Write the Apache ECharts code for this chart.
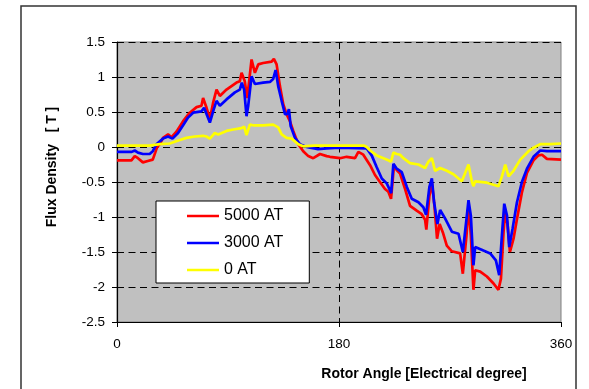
<!DOCTYPE html>
<html>
<head>
<meta charset="utf-8">
<script src="https://cdn.jsdelivr.net/npm/echarts@6/dist/echarts.min.js"></script>
<style>
  html, body { margin: 0; padding: 0; background: #ffffff; }
  #chart { width: 589px; height: 389px; }
</style>
</head>
<body>
<div id="chart"></div>
<script>
// Flux density along the air gap vs. rotor position, for three excitation levels.
const seriesNames = ['5000 AT', '3000 AT', '0 AT'];
const xTicks = { min: 0, max: 360, interval: 180 };
const yTicks = { min: -2.5, max: 1.5, interval: 0.5 };

// [rotor angle (electrical degree), flux density (T)]
const flux5000 = [
  [0,-0.19],[11.7,-0.19],[14.4,-0.13],[17,-0.16],[21,-0.22],[25,-0.20],[29,-0.18],[31,-0.08],
  [32.5,0.0],[35,0.05],[37.3,0.13],[41.4,0.18],[44.2,0.14],[48.2,0.22],[53.6,0.37],[59,0.49],
  [64.5,0.57],[68.5,0.59],[69.8,0.70],[72.6,0.56],[75.3,0.40],[77.9,0.63],[80.7,0.82],[83.4,0.73],
  [88.8,0.82],[96.9,0.92],[99.6,0.94],[101,1.06],[103.6,0.94],[105.5,0.70],[106.9,0.90],[109.1,1.25],
  [111.8,1.06],[114.5,1.18],[118.5,1.20],[125.4,1.22],[127.2,1.26],[129.4,1.18],[132.1,0.87],
  [134.8,0.61],[137.5,0.47],[140.2,0.37],[142.9,0.23],[147,0.04],[151,-0.06],[155.1,-0.13],
  [159.1,-0.16],[164.6,-0.10],[170,-0.13],[172.7,-0.14],[180.8,-0.16],[186.2,-0.14],[193,-0.16],
  [195.7,-0.07],[199.7,-0.11],[205.2,-0.26],[209.2,-0.40],[213.2,-0.50],[217.3,-0.60],[220,-0.64],
  [222.2,-0.74],[224.6,-0.26],[226.8,-0.33],[229.5,-0.38],[233.6,-0.60],[237.6,-0.84],[243,-0.91],
  [247.1,-0.96],[249.8,-1.04],[250.8,-1.18],[253.3,-0.70],[255.3,-0.51],[257.4,-0.84],[259.5,-1.31],
  [261.6,-1.10],[264.2,-1.22],[267.4,-1.41],[271.5,-1.49],[278.2,-1.52],[280.4,-1.81],[283.4,-1.26],
  [285,-0.84],[286.9,-1.26],[289,-2.04],[290.4,-1.76],[294.5,-1.78],[299.9,-1.85],[305.3,-1.95],
  [309.3,-2.04],[311.3,-1.88],[313.4,-1.22],[314.8,-0.91],[316.7,-1.12],[318.6,-1.50],[321.5,-1.31],
  [324.3,-1.03],[328.3,-0.65],[332.4,-0.37],[337.7,-0.19],[341.8,-0.12],[344.6,-0.11],[348.6,-0.17],
  [360,-0.18]
];

const flux3000 = [
  [0,-0.07],[12,-0.07],[14.4,-0.05],[17,-0.08],[21,-0.10],[26.5,-0.10],[29,-0.06],[32,0.04],
  [37.3,0.12],[41.4,0.15],[45,0.12],[49.5,0.20],[53.6,0.31],[57.6,0.42],[61.7,0.49],[68.5,0.51],
  [70.6,0.56],[72.6,0.47],[75.3,0.35],[78.5,0.54],[80.7,0.66],[83.4,0.59],[88.8,0.68],[95.6,0.78],
  [99.6,0.82],[101.2,0.92],[103.1,0.82],[105,0.44],[106.4,0.59],[109.1,1.01],[111.8,0.90],
  [118.5,0.92],[124,0.93],[126.6,0.97],[128.6,1.10],[130.7,0.87],[133.5,0.66],[136.2,0.47],
  [138,0.47],[139.4,0.54],[140.8,0.30],[144.3,0.13],[148.3,0.04],[153.8,0.0],[156.5,-0.01],
  [160,-0.02],[163,-0.03],[170,-0.02],[180,-0.01],[202.5,-0.02],[206.5,-0.12],[210.6,-0.29],
  [214.7,-0.45],[218.7,-0.52],[221.4,-0.62],[222.3,-0.66],[224.1,-0.24],[226.8,-0.31],[230.9,-0.36],
  [235,-0.57],[239,-0.74],[244.4,-0.79],[248.4,-0.86],[250.6,-0.97],[253.3,-0.57],[255.3,-0.45],
  [257.1,-0.79],[259.8,-1.10],[262,-0.90],[266,-1.02],[271.5,-1.21],[276.9,-1.24],[280.4,-1.50],
  [283.1,-1.07],[285,-0.76],[286.9,-0.98],[289,-1.69],[290.4,-1.43],[297.1,-1.48],[302.6,-1.52],
  [307.2,-1.62],[309.9,-1.83],[312.1,-1.26],[314,-0.81],[316.2,-0.98],[318,-1.43],[320.7,-1.17],
  [324.3,-0.79],[328.3,-0.50],[332.4,-0.31],[337.7,-0.14],[343.2,-0.05],[348.6,-0.06],[360,-0.06]
];

const flux0 = [
  [0,0.02],[26.5,0.02],[34.7,0.04],[42.8,0.05],[50.9,0.10],[56.3,0.13],[63.1,0.15],[69.8,0.16],
  [72.5,0.15],[75.3,0.12],[79.3,0.20],[82,0.18],[88.8,0.23],[94.2,0.25],[101,0.27],[103.1,0.29],
  [105,0.17],[107.7,0.32],[110.4,0.31],[118.5,0.31],[126.6,0.32],[130.7,0.28],[133.5,0.18],
  [137.5,0.13],[141.6,0.12],[147,0.04],[151,0.01],[160,0.02],[200,0.02],[202.5,0.0],[205.2,-0.05],
  [210.6,-0.12],[220,-0.19],[222.2,-0.21],[224.1,-0.08],[226.8,-0.10],[229.5,-0.11],[232.2,-0.16],
  [237.6,-0.23],[244.4,-0.25],[249.8,-0.30],[252.5,-0.21],[255.3,-0.16],[257.9,-0.34],[262,-0.30],
  [267.4,-0.34],[272.8,-0.39],[279.6,-0.49],[282.3,-0.37],[285,-0.25],[287.7,-0.49],[289,-0.56],
  [290.4,-0.49],[299.9,-0.51],[309.3,-0.56],[312.1,-0.42],[314.8,-0.25],[317.5,-0.42],[321.5,-0.34],
  [327,-0.18],[333.7,-0.06],[337.7,-0.01],[343.2,0.04],[351.3,0.04],[360,0.05]
];

const seriesColors = ['#ff0000', '#0000ff', '#ffff00'];
const seriesData = [flux5000, flux3000, flux0];

const FONT = '"Liberation Sans", Arial, sans-serif';
const chart = echarts.init(document.getElementById('chart'), null, { renderer: 'canvas' });

const gridDash = {
  show: true,
  lineStyle: { color: '#000000', width: 1, type: [7, 4.5] }
};

chart.setOption({
  animation: false,
  backgroundColor: '#ffffff',
  textStyle: { fontFamily: FONT },
  grid: {
    left: 117, top: 42, width: 444, height: 280,
    show: true, backgroundColor: '#c0c0c0', borderColor: '#808080', borderWidth: 1
  },
  xAxis: {
    type: 'value',
    min: xTicks.min, max: xTicks.max, interval: xTicks.interval,
    axisLine: { show: true, onZero: false, lineStyle: { color: '#000000', width: 1.2 } },
    axisTick: { show: true, length: 5, lineStyle: { color: '#000000' } },
    axisLabel: { color: '#000000', fontSize: 13.5, fontFamily: FONT, margin: 15 },
    splitLine: Object.assign({ showMinLine: false, showMaxLine: false }, gridDash)
  },
  yAxis: {
    type: 'value',
    min: yTicks.min, max: yTicks.max, interval: yTicks.interval,
    axisLine: { show: true, onZero: false, lineStyle: { color: '#000000', width: 1.2 } },
    axisTick: { show: true, length: 5, lineStyle: { color: '#000000' } },
    axisLabel: { color: '#000000', fontSize: 13.5, fontFamily: FONT, margin: 12 },
    splitLine: Object.assign({ showMinLine: false }, gridDash)
  },
  legend: {
    data: seriesNames,
    orient: 'vertical',
    left: 156, top: 201,
    padding: [7, 26, 5, 31],
    icon: 'rect',
    itemWidth: 32, itemHeight: 2.5, itemGap: 11,
    backgroundColor: '#ffffff', borderColor: '#000000', borderWidth: 1,
    textStyle: { color: '#000000', fontSize: 16, lineHeight: 16, fontFamily: FONT }
  },
  series: seriesNames.map((name, i) => ({
    name: name,
    type: 'line',
    data: seriesData[i],
    symbol: 'none',
    showSymbol: false,
    color: seriesColors[i],
    itemStyle: { color: seriesColors[i] },
    lineStyle: { color: seriesColors[i], width: 2.7 },
    z: 2 + i
  })),
  graphic: [
    {
      type: 'rect', z: -10, silent: true,
      shape: { x: 21, y: 6, width: 555, height: 420 },
      style: { fill: 'none', stroke: '#333333', lineWidth: 1.5 }
    },
    {
      type: 'text', x: 52, y: 167, rotation: Math.PI / 2, silent: true,
      style: {
        text: 'Flux Density   [ T ]', fill: '#000000',
        font: 'bold 14px ' + FONT, textAlign: 'center', textVerticalAlign: 'middle'
      }
    },
    {
      type: 'text', x: 424, y: 374, silent: true,
      style: {
        text: 'Rotor Angle [Electrical degree]', fill: '#000000',
        font: 'bold 14px ' + FONT, textAlign: 'center', textVerticalAlign: 'middle'
      }
    }
  ]
});
</script>
</body>
</html>
